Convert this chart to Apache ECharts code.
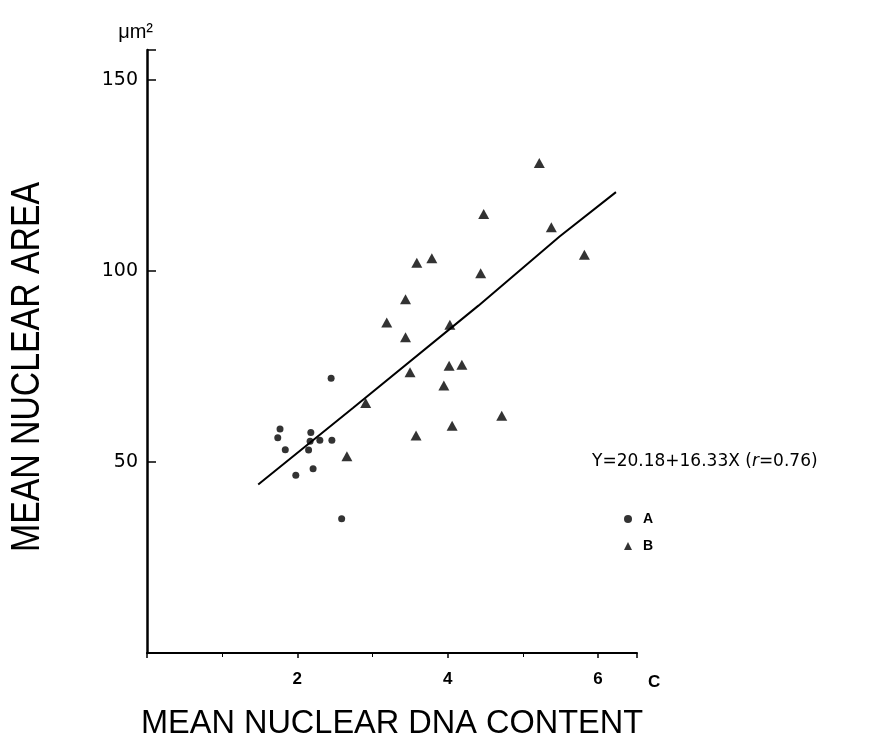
<!DOCTYPE html>
<html>
<head>
<meta charset="utf-8">
<script src="https://cdn.jsdelivr.net/npm/echarts@6/dist/echarts.min.js"></script>
<style>
html, body { margin: 0; padding: 0; background: #fff; }
#chart { width: 870px; height: 746px; }
</style>
</head>
<body>
<div id="chart"></div>
<script>
// group A (dots) : [DNA content (C), nuclear area (um2)]
var groupA = [[2.45, 71.9], [1.77, 58.6], [1.74, 56.3], [2.18, 57.7], [1.84, 53.2], [2.17, 55.4],
    [2.30, 55.7], [2.46, 55.7], [2.15, 53.1], [1.98, 46.5], [2.21, 48.2], [2.59, 35.1]];
// group B (triangles)
var groupB = [[5.22, 128.2], [4.48, 114.9], [5.38, 111.4], [5.82, 104.2], [3.59, 102.1], [3.79, 103.3],
    [4.44, 99.4], [3.44, 92.6], [3.19, 86.5], [3.44, 82.6], [4.03, 85.9], [3.50, 73.5], [4.02, 75.2],
    [4.19, 75.4], [3.95, 70.0], [2.91, 65.4], [4.72, 62.1], [4.06, 59.5], [3.58, 56.9], [2.66, 51.5]];
// regression line as drawn
var fitLine = [[1.48, 44.1], [2.74, 64.1], [4.41, 90.9], [5.49, 109.0], [6.24, 120.6]];
var xTickLabels = [2, 4, 6];
var yTickLabels = [50, 100, 150];
var equation = 'Y=20.18+16.33X';

var font = 'Liberation Sans, Arial, sans-serif';

var option = {
    backgroundColor: '#fff',
    animation: false,
    grid: { left: 147, top: 50, width: 490, height: 604 },
    legend: {
        orient: 'vertical',
        left: 619,
        top: 507,
        itemWidth: 8,
        itemHeight: 8,
        itemGap: 13,
        textStyle: { fontFamily: font, fontSize: 14, fontWeight: 'bold', color: '#000', padding: [0, 0, 0, 6] },
        data: [{ name: 'A', icon: 'circle' }, { name: 'B', icon: 'triangle' }]
    },
    xAxis: {
        type: 'value',
        min: 0,
        max: 6.52,
        interval: 2,
        splitLine: { show: false },
        axisLine: { lineStyle: { color: '#000', width: 2 } },
        axisTick: { show: true, length: 5, lineStyle: { color: '#000', width: 1.5 } },
        minorTick: { show: true, splitNumber: 2, length: 4, lineStyle: { color: '#000' } },
        axisLabel: {
            margin: 18,
            fontFamily: font,
            fontSize: 17,
            fontWeight: 'bold',
            color: '#000',
            formatter: function (v) {
                return xTickLabels.indexOf(v) >= 0 ? String(v) : '';
            }
        },
        name: 'MEAN NUCLEAR DNA CONTENT',
        nameLocation: 'middle',
        nameGap: 55,
        nameTextStyle: { fontFamily: font, fontSize: 32.5, color: '#000' }
    },
    yAxis: {
        type: 'value',
        min: 0,
        max: 157.8,
        interval: 50,
        splitLine: { show: false },
        axisLine: { lineStyle: { color: '#000', width: 2.5 } },
        axisTick: { show: true, inside: true, length: 9, lineStyle: { color: '#000', width: 1.5 } },
        axisLabel: {
            margin: 9,
            fontFamily: 'DejaVu Sans, sans-serif',
            fontSize: 19,
            color: '#000',
            formatter: function (v) {
                return yTickLabels.indexOf(v) >= 0 ? String(v) : '';
            }
        },
        name: 'μm²',
        nameLocation: 'end',
        nameGap: 8,
        nameTextStyle: { fontFamily: font, fontSize: 20, color: '#000', align: 'right', verticalAlign: 'bottom', padding: [0, -6, 0, 0] }
    },
    graphic: [
        {
            type: 'text',
            x: 28,
            y: 367,
            rotation: Math.PI / 2,
            scaleX: 0.845,
            style: {
                text: 'MEAN NUCLEAR AREA',
                fontFamily: font,
                fontSize: 40,
                fill: '#000',
                align: 'center',
                verticalAlign: 'middle'
            }
        },
        {
            type: 'text',
            x: 648,
            y: 682,
            style: { text: 'C', fontFamily: font, fontSize: 17, fontWeight: 'bold', fill: '#000', verticalAlign: 'middle' }
        },
        {
            type: 'text',
            x: 592,
            y: 462,
            style: {
                text: '{n|' + equation + ' (}{i|r}{n|=0.76)}',
                verticalAlign: 'middle',
                rich: {
                    n: { fontFamily: 'DejaVu Sans, sans-serif', fontSize: 17, fill: '#000' },
                    i: { fontFamily: 'DejaVu Sans, sans-serif', fontSize: 17, fontStyle: 'italic', fill: '#000' }
                }
            }
        }
    ],
    series: [
        {
            name: 'fit',
            type: 'line',
            data: fitLine,
            symbol: 'none',
            lineStyle: { color: '#000', width: 2 },
            z: 1
        },
        {
            name: 'A',
            type: 'scatter',
            data: groupA,
            symbol: 'circle',
            symbolSize: 7,
            itemStyle: { color: '#000' },
            z: 3
        },
        {
            name: 'B',
            type: 'scatter',
            data: groupB,
            symbol: 'triangle',
            symbolSize: [11, 10],
            itemStyle: { color: '#000' },
            z: 3
        }
    ]
};

var myChart = echarts.init(document.getElementById('chart'));
myChart.setOption(option);
</script>
</body>
</html>
